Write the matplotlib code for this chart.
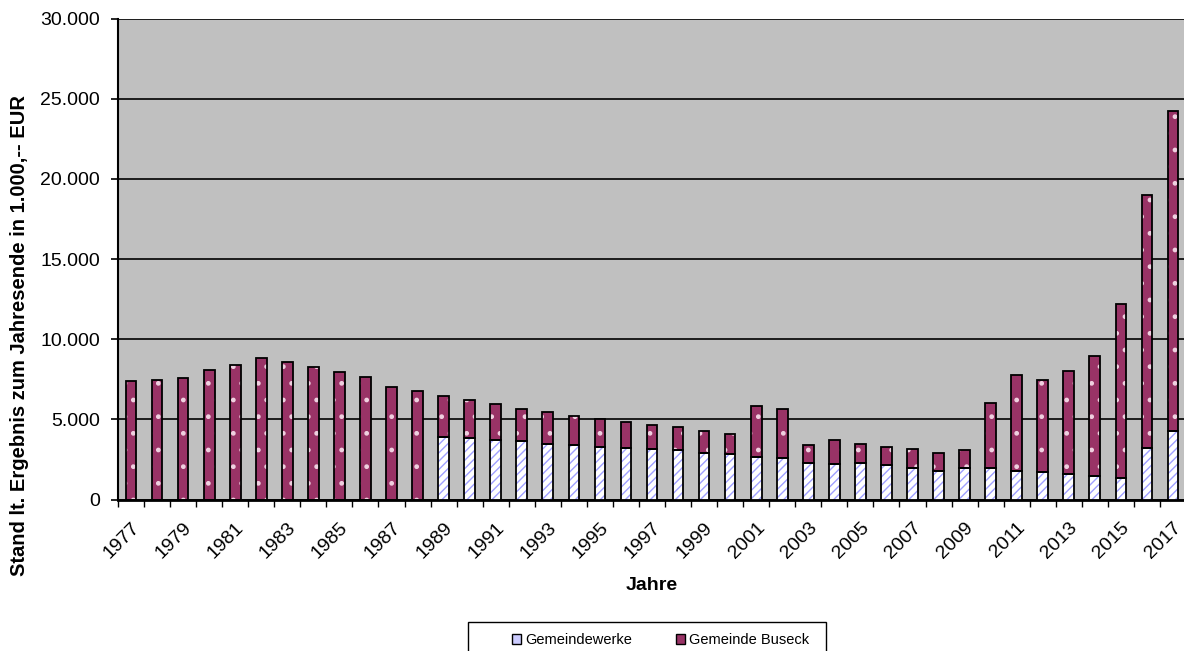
import matplotlib
matplotlib.use("Agg")
import matplotlib.pyplot as plt
from matplotlib.patches import Patch, Rectangle
from matplotlib.ticker import FuncFormatter, FixedLocator

plt.rcParams['font.family'] = ['Liberation Sans', 'DejaVu Sans']

# Schuldenstand in 1.000 EUR
years = list(range(1977, 2018))
gemeindewerke = [0, 0, 0, 0, 0, 0, 0, 0, 0, 0, 0, 0,
                 3920, 3830, 3690, 3625, 3440, 3380, 3290, 3210, 3130, 3065,
                 2900, 2815, 2670, 2610, 2275, 2190, 2275, 2130, 1985, 1800,
                 1985, 1960, 1800, 1710, 1570, 1490, 1340, 3210, 4250]
gemeinde_buseck = [7410, 7470, 7550, 8090, 8400, 8800, 8570, 8280, 7950, 7660, 7010, 6770,
                   2530, 2370, 2285, 2035, 1995, 1805, 1730, 1600, 1515, 1435,
                   1350, 1285, 3140, 3050, 1125, 1500, 1185, 1160, 1165, 1100,
                   1080, 4040, 5980, 5760, 6440, 7480, 10850, 15790, 19950]

W, H = 1184, 651
fig = plt.figure(figsize=(W / 100, H / 100), dpi=100)
ax = fig.add_axes([118 / W, 1 - 499.5 / H, (W - 118) / W, (499.5 - 18.5) / H])
ax.set_facecolor('#c0c0c0')

x = list(range(len(years)))
bw = 0.41
plt.rcParams['hatch.linewidth'] = 1.0

# Gemeindewerke: weiss mit hellblauer Schraffur
ax.bar(x, gemeindewerke, bw, color='white', edgecolor='#a0a0ff', hatch='////', linewidth=0, zorder=3)
ax.bar(x, gemeindewerke, bw, fill=False, edgecolor='black', linewidth=1.3, zorder=4)
# Gemeinde Buseck: weinrot mit Punkten
ax.bar(x, gemeinde_buseck, bw, bottom=gemeindewerke, color='#993366', edgecolor='#f0d0e0',
       hatch='.', linewidth=0, zorder=3)
ax.bar(x, gemeinde_buseck, bw, bottom=gemeindewerke, fill=False, edgecolor='black',
       linewidth=1.3, zorder=4)

ax.set_xlim(-0.5, len(years) - 0.5 - 2 / 26.05)
ax.set_ylim(0, 30000)
ax.set_yticks(range(0, 30001, 5000))
ax.yaxis.set_major_formatter(FuncFormatter(lambda v, p: f"{int(v):,}".replace(',', '.')))
ax.grid(axis='y', color='black', linewidth=1.2, zorder=1)
ax.set_axisbelow(True)

ax.set_xticks(x[::2])
ax.set_xticklabels([str(y) for y in years[::2]], rotation=45, ha='right', va='top',
                   rotation_mode='anchor')
ax.xaxis.set_minor_locator(FixedLocator([i + 0.5 for i in range(-1, len(years))]))
ax.tick_params(axis='x', which='major', length=0, pad=14, labelsize=14)
ax.tick_params(axis='x', which='minor', length=5, width=1, direction='out')
ax.tick_params(axis='y', length=5, width=1.2, pad=8, labelsize=14)

for s in ['top', 'right']:
    ax.spines[s].set_visible(False)
ax.spines['left'].set_linewidth(1.5)
ax.spines['bottom'].set_linewidth(2)

fig.text(652 / W, 1 - 586 / H, 'Jahre', ha='center', va='center', fontsize=14, fontweight='bold')
fig.text(20 / W, 1 - 336 / H, 'Stand lt. Ergebnis zum Jahresende in 1.000,-- EUR',
         rotation=90, ha='center', va='center', fontsize=14.5, fontweight='bold')

# Legende
fig.patches.append(Rectangle((467.5 / W, -0.01), (826 - 467.5) / W, 0.01 + 1 - 621.5 / H,
                             transform=fig.transFigure, facecolor='white', edgecolor='black',
                             linewidth=1))
handles = [Patch(facecolor='#ccccff', edgecolor='black', label='Gemeindewerke'),
           Patch(facecolor='#993366', edgecolor='black', label='Gemeinde Buseck')]
fig.legend(handles=handles, loc='center left', bbox_to_anchor=(512 / W, 1 - 640 / H),
           ncol=2, frameon=False, fontsize=10.5, handlelength=0.65, handleheight=0.65,
           handletextpad=0.25, columnspacing=3.0, borderpad=0, borderaxespad=0)

fig.savefig('out.png', dpi=100)
